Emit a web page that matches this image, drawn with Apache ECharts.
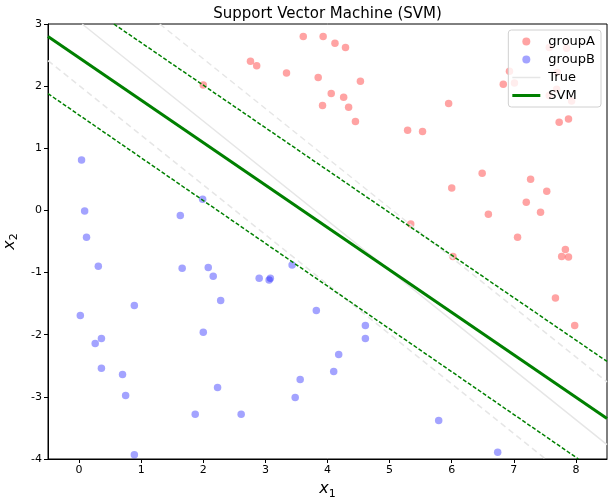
<!DOCTYPE html>
<html>
<head>
<meta charset="utf-8">
<script src="https://cdn.jsdelivr.net/npm/echarts@6/dist/echarts.min.js"></script>
<style>html,body{margin:0;padding:0;background:#fff;}#c{width:613px;height:503px;}</style>
</head>
<body>
<div id="c"></div>
<script>
const groupA = [
  [3.61,2.80],[3.93,2.80],[4.12,2.69],[4.29,2.62],[2.76,2.40],[2.86,2.33],[3.34,2.21],[3.85,2.14],
  [4.53,2.08],[2.00,2.02],[4.06,1.88],[4.26,1.82],[3.92,1.69],[4.34,1.66],[4.45,1.43],
  [7.57,2.62],[7.85,2.61],[6.93,2.24],[6.83,2.03],[7.01,2.05],[7.70,2.22],[7.69,1.95],[7.57,1.85],
  [7.93,1.76],[5.95,1.72],[7.73,1.42],[7.88,1.47],[5.29,1.29],[5.53,1.27],[6.49,0.60],
  [7.27,0.50],[6.00,0.36],[7.53,0.31],[7.20,0.13],[7.43,-0.03],[6.59,-0.06],[5.34,-0.22],
  [7.06,-0.43],[7.83,-0.63],[7.77,-0.74],[7.88,-0.75],[6.02,-0.74],[7.67,-1.41],[7.98,-1.85]
];
const groupB = [
  [0.04,0.81],[0.09,-0.01],[0.12,-0.43],[0.31,-0.90],[1.63,-0.08],[1.99,0.18],[1.66,-0.93],
  [2.08,-0.92],[2.16,-1.06],[0.89,-1.53],[2.28,-1.45],[0.02,-1.69],[2.00,-1.96],[0.36,-2.06],
  [0.26,-2.14],[0.36,-2.54],[0.70,-2.64],[0.75,-2.98],[2.23,-2.85],[1.87,-3.28],[2.61,-3.28],
  [0.89,-3.93],[2.90,-1.09],[3.08,-1.09],[3.06,-1.12],[3.43,-0.88],[3.82,-1.61],[4.61,-1.85],
  [4.61,-2.06],[4.18,-2.32],[4.10,-2.59],[3.56,-2.72],[3.48,-3.01],[5.79,-3.38],[6.74,-3.89]
];
// line endpoints
const trueLine = [[0.05,3.0],[8.5,-3.77]];
const trueUpper = [[1.30,3.0],[8.5,-2.76]];
const trueLower = [[-0.5,2.41],[7.51,-4.0]];
const svmLine = [[-0.5,2.80],[8.5,-3.35]];
const svmUpper = [[0.56,3.0],[8.5,-2.43]];
const svmLower = [[-0.5,1.88],[8.04,-4.0]];
const xTicks = [0,1,2,3,4,5,6,7,8];
const yTicks = [-4,-3,-2,-1,0,1,2,3];

const FONT = 'DejaVu Sans';
const chart = echarts.init(document.getElementById('c'), null, {renderer:'canvas'});
const lineS = (name, data, color, width, type, z) => ({
  name, type:'line', data, symbol:'none', silent:true, z,
  lineStyle:{color, width, type}, itemStyle:{color}, animation:false
});
const nameRich = {
  i:{fontFamily:FONT, fontStyle:'italic', fontSize:16, color:'#000'},
  s:{fontFamily:FONT, fontSize:11, color:'#000', verticalAlign:'bottom', padding:[10,0,0,0]}
};
chart.setOption({
  animation:false,
  textStyle:{fontFamily:FONT},
  graphic:[{type:'text', x:327.5, y:7, style:{text:'Support Vector Machine (SVM)', font:'15px "DejaVu Sans"', fill:'#000', align:'center'}}],
  grid:{left:48, right:6, top:24, bottom:44, outerBoundsMode:'none', containLabel:false,
    show:true, borderColor:'#000', borderWidth:1, backgroundColor:'transparent'},
  xAxis:{type:'value', min:-0.5, max:8.5,
    name:'{i|x}{s|1}', nameLocation:'middle', nameGap:18,
    nameTextStyle:{rich:nameRich},
    axisLine:{show:true, onZero:false, lineStyle:{color:'#000', width:1}},
    axisTick:{show:true, inside:false, length:4, customValues:xTicks, lineStyle:{color:'#000'}},
    axisLabel:{customValues:xTicks, color:'#000', fontSize:11, fontFamily:FONT, margin:6},
    splitLine:{show:false}},
  yAxis:{type:'value', min:-4, max:3, interval:1,
    name:'{i|x}{s|2}', nameLocation:'middle', nameGap:21, nameRotate:90,
    nameTextStyle:{rich:nameRich},
    axisLine:{show:true, onZero:false, lineStyle:{color:'#000', width:1}},
    axisTick:{show:true, inside:false, length:4, lineStyle:{color:'#000'}},
    axisLabel:{color:'#000', fontSize:11, fontFamily:FONT, margin:6},
    splitLine:{show:false}},
  legend:{right:12, top:30, orient:'vertical', align:'left',
    data:[
      {name:'groupA', icon:'circle'},
      {name:'groupB', icon:'circle'},
      {name:'True', icon:'path://M0,0h28v1.5h-28z'},
      {name:'SVM', icon:'path://M0,0h28v3h-28z'}
    ],
    backgroundColor:'rgba(255,255,255,0.8)', borderColor:'#d0d0d0', borderWidth:1, borderRadius:3,
    padding:[5,6,5,4], itemGap:5, itemWidth:28, itemHeight:8,
    textStyle:{fontSize:13, fontFamily:FONT, color:'#000', padding:[0,0,0,3]}},
  series:[
    {name:'groupA', type:'scatter', data:groupA, symbolSize:7.5, z:2, itemStyle:{color:'rgba(255,0,0,0.45)'}},
    {name:'groupB', type:'scatter', data:groupB, symbolSize:7.5, z:2, itemStyle:{color:'rgba(0,0,255,0.45)'}},
    lineS('True', trueLine, '#e6e6e6', 1.5, 'solid', 3),
    lineS('trueUpper', trueUpper, '#e6e6e6', 1.5, [6,4], 3),
    lineS('trueLower', trueLower, '#e6e6e6', 1.5, [6,4], 3),
    lineS('SVM', svmLine, '#008000', 3, 'solid', 4),
    lineS('svmUpper', svmUpper, '#008000', 1.5, [4,2], 4),
    lineS('svmLower', svmLower, '#008000', 1.5, [4,2], 4)
  ]
});
</script>
</body>
</html>
